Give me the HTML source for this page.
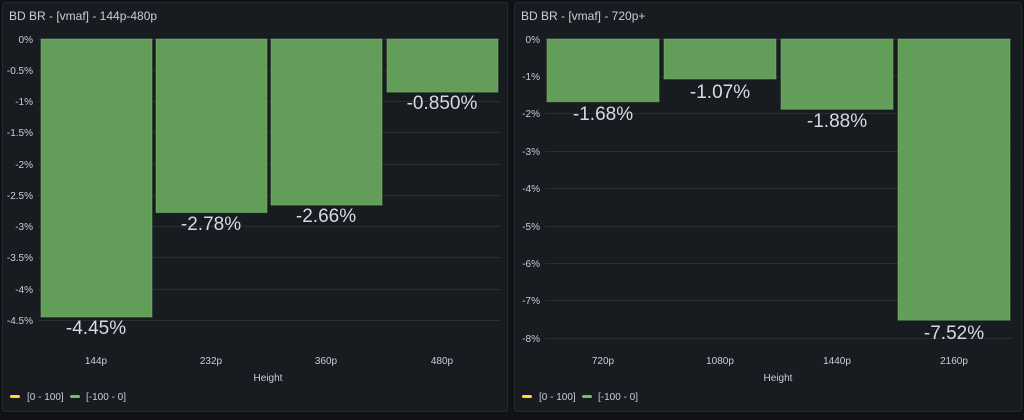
<!DOCTYPE html>
<html><head><style>
body{margin:0;background:#111217;width:1024px;height:415px;overflow:hidden;font-family:"Liberation Sans",sans-serif}
</style></head><body>
<svg width="1024" height="415" xmlns="http://www.w3.org/2000/svg" font-family="Liberation Sans, sans-serif">
<rect x="0" y="0" width="1024" height="415" fill="#111217"/>
<rect x="2.5" y="2.5" width="505" height="409" rx="2" fill="#181b1f" stroke="#25282e"/>
<rect x="514.5" y="2.5" width="507" height="409" rx="2" fill="#181b1f" stroke="#25282e"/>
<g fill="#ccccdc" font-size="12"><text x="9" y="20">BD BR - [vmaf] - 144p-480p</text><text x="521" y="20">BD BR - [vmaf] - 720p+</text></g>
<g stroke="#2a2d33" stroke-width="1">
<line x1="38" x2="500" y1="39.5" y2="39.5"/><line x1="38" x2="500" y1="70.5" y2="70.5"/><line x1="38" x2="500" y1="101.5" y2="101.5"/><line x1="38" x2="500" y1="132.5" y2="132.5"/><line x1="38" x2="500" y1="164.5" y2="164.5"/><line x1="38" x2="500" y1="195.5" y2="195.5"/><line x1="38" x2="500" y1="226.5" y2="226.5"/><line x1="38" x2="500" y1="257.5" y2="257.5"/><line x1="38" x2="500" y1="289.5" y2="289.5"/><line x1="38" x2="500" y1="320.5" y2="320.5"/>
<line x1="545" x2="1012" y1="39.5" y2="39.5"/><line x1="545" x2="1012" y1="76.5" y2="76.5"/><line x1="545" x2="1012" y1="113.5" y2="113.5"/><line x1="545" x2="1012" y1="151.5" y2="151.5"/><line x1="545" x2="1012" y1="188.5" y2="188.5"/><line x1="545" x2="1012" y1="226.5" y2="226.5"/><line x1="545" x2="1012" y1="263.5" y2="263.5"/><line x1="545" x2="1012" y1="300.5" y2="300.5"/><line x1="545" x2="1012" y1="338.5" y2="338.5"/>
</g>
<g fill="#ccccdc" font-size="10" text-anchor="end">
<text x="33" y="43">0%</text><text x="33" y="74">-0.5%</text><text x="33" y="105">-1%</text><text x="33" y="136">-1.5%</text><text x="33" y="168">-2%</text><text x="33" y="199">-2.5%</text><text x="33" y="230">-3%</text><text x="33" y="261">-3.5%</text><text x="33" y="293">-4%</text><text x="33" y="324">-4.5%</text>
<text x="540" y="43">0%</text><text x="540" y="80">-1%</text><text x="540" y="117">-2%</text><text x="540" y="155">-3%</text><text x="540" y="192">-4%</text><text x="540" y="230">-5%</text><text x="540" y="267">-6%</text><text x="540" y="304">-7%</text><text x="540" y="342">-8%</text>
</g>
<g fill="#629e5a" stroke="#73bf69" stroke-opacity="0.5">
<rect x="41" y="39" width="111" height="278"/><rect x="156" y="39" width="111" height="173.6"/><rect x="271" y="39" width="111" height="166.1"/><rect x="387" y="39" width="111" height="53.1"/>
<rect x="547" y="39" width="112" height="62.8"/><rect x="664" y="39" width="112" height="40"/><rect x="781" y="39" width="112" height="70.3"/><rect x="898" y="39" width="112" height="281.2"/>
</g>
<g fill="#d8d9e3" font-size="19" text-anchor="middle">
<text x="96" y="334">-4.45%</text><text x="211" y="230">-2.78%</text><text x="326" y="222">-2.66%</text><text x="442" y="109">-0.850%</text>
<text x="603" y="120">-1.68%</text><text x="720" y="98">-1.07%</text><text x="837" y="127">-1.88%</text><text x="954" y="339">-7.52%</text>
</g>
<g fill="#ccccdc" font-size="10" text-anchor="middle">
<text x="96" y="364">144p</text><text x="211" y="364">232p</text><text x="326" y="364">360p</text><text x="442" y="364">480p</text>
<text x="603" y="364">720p</text><text x="720" y="364">1080p</text><text x="837" y="364">1440p</text><text x="954" y="364">2160p</text>
<text x="268" y="381">Height</text><text x="778" y="381">Height</text>
</g>
<g font-size="10" fill="#ccccdc">
<rect x="10" y="395" width="10" height="3" rx="1.5" fill="#fade2a"/><text x="27" y="400">[0 - 100]</text>
<rect x="70" y="395" width="10" height="3" rx="1.5" fill="#73bf69"/><text x="86" y="400">[-100 - 0]</text>
<rect x="522" y="395" width="10" height="3" rx="1.5" fill="#fade2a"/><text x="539" y="400">[0 - 100]</text>
<rect x="582" y="395" width="10" height="3" rx="1.5" fill="#73bf69"/><text x="598" y="400">[-100 - 0]</text>
</g>
</svg>
</body></html>
